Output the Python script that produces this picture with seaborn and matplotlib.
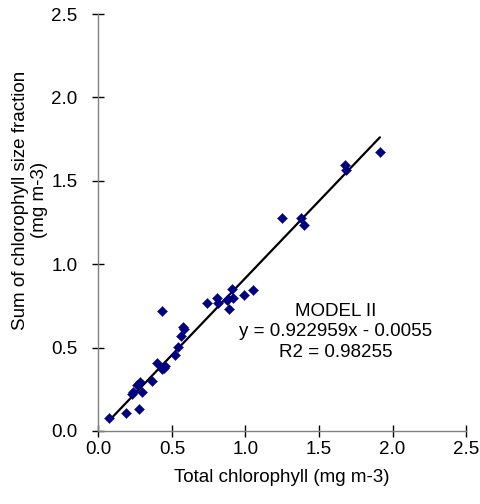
import numpy as np
import pandas as pd
import seaborn as sns
import matplotlib.pyplot as plt

total_chl = [
    0.075, 0.186, 0.276, 0.227, 0.238, 0.299, 0.265, 0.283, 0.367, 0.400,
    0.431, 0.453, 0.445, 0.521, 0.431, 0.543, 0.560, 0.577, 0.585, 0.736,
    0.804, 0.810, 0.872, 0.880, 0.908, 0.913, 0.890, 0.990, 1.049, 1.248,
    1.375, 1.397, 1.674, 1.683, 1.914
]
sum_fractions = [
    0.076, 0.110, 0.132, 0.220, 0.236, 0.236, 0.276, 0.296, 0.300, 0.406,
    0.370, 0.390, 0.380, 0.456, 0.719, 0.505, 0.570, 0.622, 0.610, 0.770,
    0.795, 0.770, 0.785, 0.790, 0.850, 0.800, 0.730, 0.815, 0.845, 1.276,
    1.276, 1.234, 1.594, 1.566, 1.674
]
slope = 0.922959
intercept = -0.0055
r2 = 0.98255
ticks = [0.0, 0.5, 1.0, 1.5, 2.0, 2.5]

sns.set_style("white")
plt.rcParams['font.family'] = ['Liberation Sans', 'DejaVu Sans']
plt.rcParams['text.color'] = 'black'
plt.rcParams['axes.labelcolor'] = 'black'

fs = 13.5

df = pd.DataFrame({"total": total_chl, "sum": sum_fractions})

fig = plt.figure(figsize=(4.8, 5.04), dpi=100)
ax = fig.add_axes([0.205, 0.145, 0.766, 0.827])

# model II fit line over the data range
xfit = np.array([df["total"].min(), df["total"].max()])
ax.plot(xfit, slope * xfit + intercept, color="black", lw=1.6, zorder=2)

sns.scatterplot(
    data=df,
    x="total",
    y="sum",
    marker="D",
    s=26,
    color="#000080",
    edgecolor="#000080",
    linewidth=0.3,
    ax=ax,
    zorder=3
)

ax.set_xlim(0, 2.5)
ax.set_ylim(0, 2.5)
ax.set_xticks(ticks)
ax.set_yticks(ticks)
ax.set_xticklabels([f"{t:.1f}" for t in ticks])
ax.set_yticklabels([f"{t:.1f}" for t in ticks])

for side in ["top", "right"]:
    ax.spines[side].set_visible(False)
for side in ["left", "bottom"]:
    ax.spines[side].set_color("#808080")
    ax.spines[side].set_linewidth(1.0)

ax.tick_params(axis="x", bottom=True, direction="inout", length=8, width=1,
               color="black", labelcolor="black", labelsize=fs, pad=3.5)
ax.tick_params(axis="y", left=True, direction="inout", length=8, width=1,
               color="black", labelcolor="black", labelsize=fs, pad=11)

ax.set_xlabel("Total chlorophyll (mg m-3)", fontsize=fs, labelpad=8)
ax.set_ylabel("")
fig.text(30 / 480, 1 - 200 / 504,
         "Sum of chlorophyll size fraction\n(mg m-3)",
         rotation=90, ha="center", va="center", fontsize=fs,
         linespacing=1.15)

ax.text(1.615, 0.594,
        f"MODEL II\ny = {slope}x - {abs(intercept)}\nR2 = {r2}",
        ha="center", va="center", fontsize=fs, linespacing=1.25)

plt.savefig("out.png", dpi=100)
